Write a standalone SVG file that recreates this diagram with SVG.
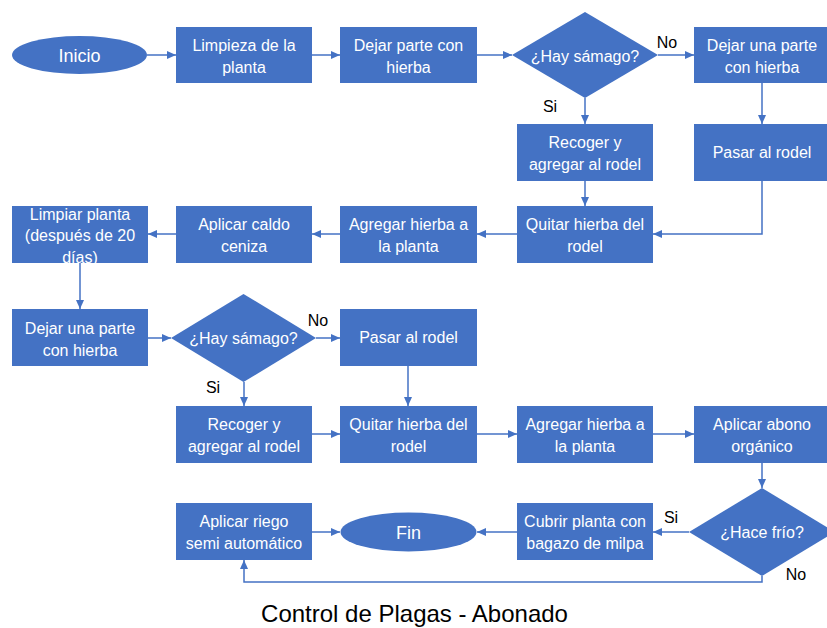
<svg xmlns="http://www.w3.org/2000/svg" width="827" height="628" viewBox="0 0 827 628">
<style>
.b{fill:#4472C4}
.t{fill:#fff;font-family:"Liberation Sans",Arial,sans-serif;font-size:16px;text-anchor:middle}
.l{fill:#000;font-family:"Liberation Sans",Arial,sans-serif;font-size:16px;text-anchor:middle}
.c{fill:none;stroke:#4472C4;stroke-width:1.5;marker-end:url(#a)}
.title{fill:#000;font-family:"Liberation Sans",Arial,sans-serif;font-size:24px;text-anchor:middle}
</style>
<defs>
<marker id="a" markerUnits="userSpaceOnUse" markerWidth="10" markerHeight="10" viewBox="0 0 10 10" refX="9" refY="5" orient="auto">
<path d="M0,1 L9,5 L0,9 z" fill="#4472C4"/>
</marker>
</defs>
<rect width="827" height="628" fill="#fff"/>
<g id="connectors">
<path class="c" d="M147,55 H176"/>
<path class="c" d="M312,55 H340"/>
<path class="c" d="M477,55 H512"/>
<path class="c" d="M658,55 H694"/>
<path class="c" d="M585,98 V124"/>
<path class="c" d="M762,83 V124"/>
<path class="c" d="M585,181 V206"/>
<path class="c" d="M762,181 V234 H653"/>
<path class="c" d="M517,234 H477"/>
<path class="c" d="M340,234 H312"/>
<path class="c" d="M176,234 H148"/>
<path class="c" d="M80,263 V309"/>
<path class="c" d="M148,338 H171"/>
<path class="c" d="M316,338 H340"/>
<path class="c" d="M244,382 V406"/>
<path class="c" d="M408,366 V406"/>
<path class="c" d="M312,434 H340"/>
<path class="c" d="M477,434 H517"/>
<path class="c" d="M653,434 H694"/>
<path class="c" d="M762,463 V488"/>
<path class="c" d="M689,532 H653"/>
<path class="c" d="M517,532 H477"/>
<path class="c" d="M312,532 H340"/>
<path class="c" d="M762,576 V582 H244 V560"/>
<text class="l" x="667" y="48">No</text>
<text class="l" x="550" y="112">Si</text>
<text class="l" x="318" y="326">No</text>
<text class="l" x="213" y="393">Si</text>
<text class="l" x="671" y="523">Si</text>
<text class="l" x="796" y="580">No</text>
</g>
<g id="inicio"><ellipse class="b" cx="79.5" cy="55" rx="67.5" ry="19"/><text class="t" x="79.5" y="61.5" style="font-size:18px">Inicio</text></g>
<g id="limpieza"><rect class="b" x="176" y="27" width="136" height="56"/><text class="t" x="244" y="50.5">Limpieza de la</text><text class="t" x="244" y="72.5">planta</text></g>
<g id="dejar1"><rect class="b" x="340" y="27" width="137" height="56"/><text class="t" x="408.5" y="50.5">Dejar parte con</text><text class="t" x="408.5" y="72.5">hierba</text></g>
<g id="hay1"><polygon class="b" points="585,12 658,55 585,98 512,55"/><text class="t" x="585" y="62">¿Hay sámago?</text></g>
<g id="dejar2"><rect class="b" x="694" y="27" width="136" height="56"/><text class="t" x="762" y="50.5">Dejar una parte</text><text class="t" x="762" y="72.5">con hierba</text></g>
<g id="recoger1"><rect class="b" x="517" y="124" width="136" height="57"/><text class="t" x="585" y="147.5">Recoger y</text><text class="t" x="585" y="169.5">agregar al rodel</text></g>
<g id="pasar1"><rect class="b" x="694" y="124" width="136" height="57"/><text class="t" x="762" y="158">Pasar al rodel</text></g>
<g id="quitar1"><rect class="b" x="517" y="206" width="136" height="57"/><text class="t" x="585" y="229.5">Quitar hierba del</text><text class="t" x="585" y="251.5">rodel</text></g>
<g id="agregar1"><rect class="b" x="340" y="206" width="137" height="57"/><text class="t" x="408.5" y="229.5">Agregar hierba a</text><text class="t" x="408.5" y="251.5">la planta</text></g>
<g id="caldo"><rect class="b" x="176" y="206" width="136" height="57"/><text class="t" x="244" y="229.5">Aplicar caldo</text><text class="t" x="244" y="251.5">ceniza</text></g>
<g id="limpiar"><rect class="b" x="12" y="206" width="136" height="57"/><text class="t" x="80" y="219.5">Limpiar planta</text><text class="t" x="80" y="240.5">(después de 20</text><text class="t" x="80" y="262.5">días)</text></g>
<g id="dejar3"><rect class="b" x="12" y="309" width="136" height="57"/><text class="t" x="80" y="333.5">Dejar una parte</text><text class="t" x="80" y="355.5">con hierba</text></g>
<g id="hay2"><polygon class="b" points="243.5,294 316,338 243.5,382 171,338"/><text class="t" x="243.5" y="344">¿Hay sámago?</text></g>
<g id="pasar2"><rect class="b" x="340" y="309" width="137" height="57"/><text class="t" x="408.5" y="343">Pasar al rodel</text></g>
<g id="recoger2"><rect class="b" x="176" y="406" width="136" height="57"/><text class="t" x="244" y="429.5">Recoger y</text><text class="t" x="244" y="451.5">agregar al rodel</text></g>
<g id="quitar2"><rect class="b" x="340" y="406" width="137" height="57"/><text class="t" x="408.5" y="429.5">Quitar hierba del</text><text class="t" x="408.5" y="451.5">rodel</text></g>
<g id="agregar2"><rect class="b" x="517" y="406" width="136" height="57"/><text class="t" x="585" y="429.5">Agregar hierba a</text><text class="t" x="585" y="451.5">la planta</text></g>
<g id="abono"><rect class="b" x="694" y="406" width="136" height="57"/><text class="t" x="762" y="429.5">Aplicar abono</text><text class="t" x="762" y="451.5">orgánico</text></g>
<g id="frio"><polygon class="b" points="762,488 835,532 762,576 689,532"/><text class="t" x="762" y="538">¿Hace frío?</text></g>
<g id="cubrir"><rect class="b" x="517" y="503" width="136" height="57"/><text class="t" x="585" y="526.5">Cubrir planta con</text><text class="t" x="585" y="548.5">bagazo de milpa</text></g>
<g id="fin"><ellipse class="b" cx="408.5" cy="532" rx="68" ry="19.5"/><text class="t" x="408.5" y="538.5" style="font-size:18px">Fin</text></g>
<g id="riego"><rect class="b" x="176" y="503" width="136" height="57"/><text class="t" x="244" y="526.5">Aplicar riego</text><text class="t" x="244" y="548.5">semi automático</text></g>
<text class="title" x="414.5" y="622">Control de Plagas - Abonado</text>
</svg>
